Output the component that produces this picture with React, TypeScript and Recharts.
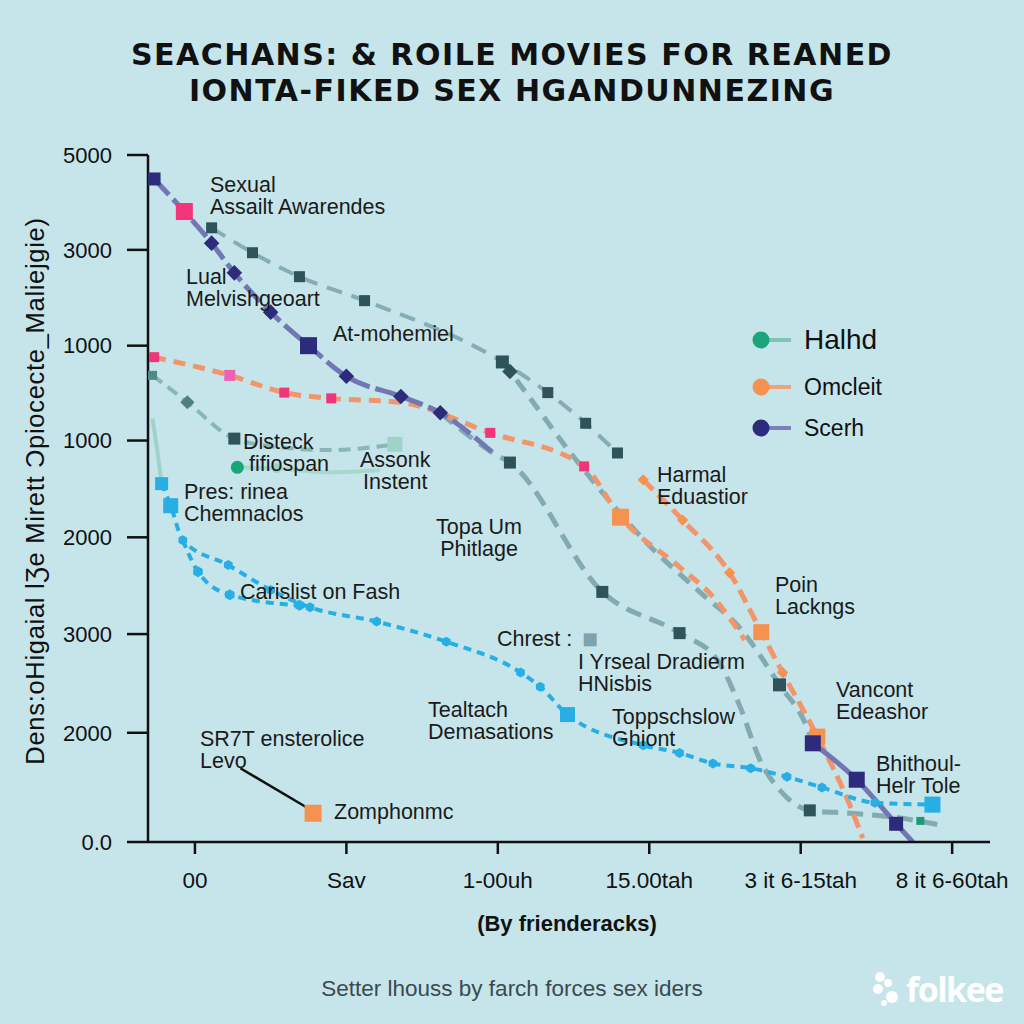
import React from "react";
import { ComposedChart, Line, XAxis, YAxis } from "recharts";

// axis ticks (positions on the chart's own scales + the printed labels)
const X_TICKS = [0, 1, 2, 3, 4, 5];
const X_LABELS = ["00", "Sav", "1-00uh", "15.00tah", "3 it 6-15tah", "8 it 6-60tah"];
const Y_TICKS = [0, 1.14, 2.17, 3.18, 4.19, 5.18, 6.18, 7.17];
const Y_LABELS = ["0.0", "2000", "3000", "2000", "1000", "1000", "3000", "5000"];

// series values, [x, y]
const scerhTop = [[-0.27, 6.92], [-0.07, 6.58], [0.11, 6.25], [0.26, 5.94], [0.5, 5.53], [0.75, 5.18], [1.0, 4.86], [1.36, 4.65], [1.62, 4.48], [1.97, 4.06]];
const scerhLow = [[4.08, 1.03], [4.37, 0.65], [4.63, 0.19], [4.74, 0.0]];
const omcleit = [[-0.27, 5.06], [0.23, 4.87], [0.59, 4.69], [0.9, 4.63], [1.35, 4.59], [1.95, 4.27], [2.57, 3.92], [2.81, 3.39], [3.2, 2.87], [3.42, 2.56], [3.63, 2.11]];
const omcleitB = [[2.96, 3.78], [3.22, 3.36], [3.53, 2.81], [3.74, 2.19], [3.88, 1.77], [4.11, 1.1], [4.31, 0.44], [4.41, 0.04]];
const greyTop = [[0.11, 6.41], [0.38, 6.15], [0.69, 5.9], [1.12, 5.65], [2.03, 5.01], [2.33, 4.69], [2.58, 4.37], [2.79, 4.06]];
const greyMid = [[2.03, 5.01], [2.08, 4.91], [2.54, 3.94], [3.01, 3.08], [3.34, 2.6], [3.6, 2.23], [3.86, 1.64], [4.04, 1.2], [4.08, 1.03]];
const greyLong = [[1.62, 4.48], [1.97, 4.06], [2.08, 3.96], [2.69, 2.61], [3.2, 2.18], [3.45, 1.9], [3.6, 1.41], [3.73, 0.86], [3.88, 0.51], [4.06, 0.33], [4.33, 0.3], [4.66, 0.25], [4.94, 0.17]];
const halhdA = [[-0.28, 4.87], [-0.05, 4.59], [0.26, 4.21], [0.56, 4.12], [0.89, 4.09], [1.32, 4.15]];
const halhdB = [[0.28, 3.91], [0.54, 3.9], [0.89, 3.86], [1.22, 3.88]];
const halhdLink = [[-0.28, 4.42], [-0.25, 4.1], [-0.22, 3.74]];
const blueA = [[-0.22, 3.74], [-0.16, 3.51], [-0.08, 3.15], [0.22, 2.89], [0.5, 2.63], [0.76, 2.45], [1.2, 2.3], [1.66, 2.09], [2.15, 1.77], [2.28, 1.62], [2.46, 1.33], [2.96, 1.01], [3.2, 0.93], [3.42, 0.82], [3.67, 0.77], [3.91, 0.68], [4.14, 0.57], [4.49, 0.41], [4.87, 0.39]];
const blueB = [[-0.08, 3.15], [0.02, 2.82], [0.23, 2.58], [0.69, 2.47]];
const leader = [[0.3, 0.77], [0.75, 0.35]];
const zomphonmc = [[0.78, 0.3]];
const chrest = [[2.61, 2.11]];
const greenEnd = [[4.79, 0.22]];

const pts = (a: number[][]) => a.map(([x, y]) => ({ x, y }));

const NAVY = "#2d2b7c";
const PINK = "#f0357a";
const ORANGE = "#f5924f";
const DARK = "#2f535b";
const BLUE = "#27aee4";
const LIGHT = "#9fd3c8";

type Spec = [string, number, string] | null;

function Mark(props: any) {
  const { cx, cy, spec } = props;
  if (cx == null || cy == null || !spec) return <g />;
  const [kind, s, fill] = spec as [string, number, string];
  if (kind === "square") return <rect x={cx - s / 2} y={cy - s / 2} width={s} height={s} fill={fill} />;
  if (kind === "diamond")
    return <rect x={cx - s / 2} y={cy - s / 2} width={s} height={s} fill={fill} transform={`rotate(45 ${cx} ${cy})`} />;
  if (kind === "hex") {
    const r = s / 2;
    const p = [0, 1, 2, 3, 4, 5].map((k) => {
      const a = (Math.PI / 3) * k + Math.PI / 6;
      return `${cx + r * Math.cos(a)},${cy + r * Math.sin(a)}`;
    });
    return <polygon points={p.join(" ")} fill={fill} />;
  }
  return <circle cx={cx} cy={cy} r={s / 2} fill={fill} />;
}

interface S {
  id: string;
  data: number[][];
  stroke: string;
  width: number;
  dash?: string;
  opacity?: number;
  mark: (i: number) => Spec;
}

const SERIES: S[] = [
  { id: "greyTop", data: greyTop, stroke: "#6f9ba2", width: 4, dash: "16 10", opacity: 0.75,
    mark: (i) => ["square", i === 4 ? 13 : 11, DARK] },
  { id: "greyLong", data: greyLong, stroke: "#6f9ba2", width: 5, dash: "16 9", opacity: 0.8,
    mark: (i) => ([2, 3, 4, 9].includes(i) ? ["square", 12, DARK] : null) },
  { id: "greyMid", data: greyMid, stroke: "#6f9ba2", width: 5, dash: "14 9", opacity: 0.8,
    mark: (i) => (i === 6 ? ["square", 13, DARK] : i === 1 ? ["diamond", 11, DARK] : null) },
  { id: "halhdLink", data: halhdLink, stroke: "#9fd3c8", width: 4, mark: () => null },
  { id: "halhdA", data: halhdA, stroke: "#7fb3af", width: 4, dash: "12 7", opacity: 0.9,
    mark: (i) => (i === 0 ? ["square", 9, "#4f8a88"] : i === 1 ? ["diamond", 10, "#4f7f80"] : i === 2 ? ["square", 12, DARK] : i === 5 ? ["square", 15, LIGHT] : null) },
  { id: "halhdB", data: halhdB, stroke: "#a6d8cd", width: 4, mark: (i) => (i === 0 ? ["circle", 13, "#1aa67a"] : i === 1 ? ["circle", 10, LIGHT] : null) },
  { id: "omcleit", data: omcleit, stroke: "#f2956a", width: 5, dash: "12 8",
    mark: (i) => (i === 7 ? ["square", 17, ORANGE] : [0, 1, 2, 3, 5, 6].includes(i) ? ["square", i === 1 ? 11 : 10, i === 1 ? "#f060b0" : PINK] : null) },
  { id: "omcleitB", data: omcleitB, stroke: "#f2956a", width: 5, dash: "14 7",
    mark: (i) => (i === 3 || i === 5 ? ["square", 16, ORANGE] : i < 3 || i === 4 ? ["diamond", 8, ORANGE] : null) },
  { id: "scerhTop", data: scerhTop, stroke: "#7276b5", width: 5, dash: "22 6",
    mark: (i) => (i === 1 ? ["square", 17, PINK] : i === 0 || i === 5 ? ["square", i === 0 ? 13 : 17, NAVY] : i === 9 ? null : ["diamond", 11, NAVY]) },
  { id: "scerhLow", data: scerhLow, stroke: "#7276b5", width: 5,
    mark: (i) => (i < 2 ? ["square", 16, NAVY] : i === 2 ? ["square", 14, NAVY] : null) },
  { id: "blueA", data: blueA, stroke: BLUE, width: 4, dash: "8 6",
    mark: (i) => (i === 0 ? ["square", 13, BLUE] : i === 1 || i === 10 ? ["square", 15, BLUE] : i === 18 ? ["square", 16, BLUE] : ["hex", 10, BLUE]) },
  { id: "blueB", data: blueB, stroke: BLUE, width: 4, dash: "8 6", mark: (i) => (i === 0 ? null : ["hex", 11, BLUE]) },
  { id: "leader", data: leader, stroke: "#111", width: 2.5, mark: () => null },
  { id: "zomphonmc", data: zomphonmc, stroke: "none", width: 0, mark: () => ["square", 17, ORANGE] },
  { id: "chrest", data: chrest, stroke: "none", width: 0, mark: () => ["square", 13, "#7fa3ae"] },
  { id: "greenEnd", data: greenEnd, stroke: "none", width: 0, mark: () => ["square", 8, "#1f9a78"] },
];

const NOTES: { lines: string[]; left: number; top: number; align?: "center" | "left" }[] = [
  { lines: ["Sexual", "Assailt Awarendes"], left: 210, top: 174 },
  { lines: ["Lual", "Melvishgeoart"], left: 186, top: 266 },
  { lines: ["At-mohemiel"], left: 333, top: 323 },
  { lines: ["Disteck", " fifiospan"], left: 243, top: 431 },
  { lines: ["Assonk", "Instent"], left: 360, top: 449, align: "center" },
  { lines: ["Pres: rinea", "Chemnaclos"], left: 184, top: 481 },
  { lines: ["Topa Um", "Phitlage"], left: 436, top: 516, align: "center" },
  { lines: ["Carislist on Fash"], left: 240, top: 581 },
  { lines: ["Chrest :"], left: 497, top: 628 },
  { lines: ["I Yrseal Dradierm", "HNisbis"], left: 578, top: 651 },
  { lines: ["Tealtach", "Demasations"], left: 428, top: 699 },
  { lines: ["Toppschslow", "Ghiont"], left: 612, top: 706 },
  { lines: ["Harmal", "Eduastior"], left: 657, top: 464 },
  { lines: ["Poin", "Lackngs"], left: 775, top: 574 },
  { lines: ["Vancont", "Edeashor"], left: 836, top: 679 },
  { lines: ["Bhithoul-", "Helr Tole"], left: 876, top: 753 },
  { lines: ["SR7T ensterolice", "Levo"], left: 200, top: 728 },
  { lines: ["Zomphonmc"], left: 334, top: 801 },
];

const LEGEND = [
  { name: "Halhd", dot: "#1aa67a", line: "#7fc4b5", top: 340, size: 28 },
  { name: "Omcleit", dot: ORANGE, line: "#f0a27a", top: 387, size: 23 },
  { name: "Scerh", dot: NAVY, line: "#7b80b8", top: 428, size: 23 },
];

const FONT = "'Liberation Sans', Arial, sans-serif";
const BG = "#c5e5ea";

export default function App() {
  return (
    <div style={{ position: "absolute", left: 0, top: 0, width: 1024, height: 1024, background: BG, fontFamily: FONT, overflow: "hidden" }}>
      <div style={{ position: "absolute", top: 37, left: 0, width: 1024, textAlign: "center", fontFamily: "'DejaVu Sans', sans-serif", fontWeight: 700, fontSize: 30, letterSpacing: 1.5, lineHeight: "36px", color: "#111" }}>
        SEACHANS: &amp; ROILE MOVIES FOR REANED
        <br />
        IONTA-FIKED SEX HGANDUNNEZING
      </div>

      <ComposedChart width={1024} height={1024} margin={{ top: 155, right: 34, bottom: 122, left: 0 }} style={{ position: "absolute", left: 0, top: 0 }}>
        <XAxis
          type="number"
          dataKey="x"
          domain={[-0.31, 5.25]}
          ticks={X_TICKS}
          tickFormatter={(_v: number, i: number) => X_LABELS[i]}
          allowDataOverflow
          height={60}
          tickSize={12}
          tickMargin={18}
          axisLine={{ stroke: "#111", strokeWidth: 2.5 }}
          tickLine={{ stroke: "#111", strokeWidth: 2.5 }}
          tick={{ fill: "#111", fontSize: 22.5, fontFamily: FONT }}
        />
        <YAxis
          type="number"
          dataKey="y"
          domain={[0, 7.17]}
          ticks={Y_TICKS}
          tickFormatter={(_v: number, i: number) => Y_LABELS[i]}
          allowDataOverflow
          width={148}
          tickSize={21}
          tickMargin={15}
          axisLine={{ stroke: "#111", strokeWidth: 2.5 }}
          tickLine={{ stroke: "#111", strokeWidth: 2.5 }}
          tick={{ fill: "#111", fontSize: 22, fontFamily: FONT }}
        />
        {SERIES.map((s) => (
          <Line
            key={s.id}
            data={pts(s.data)}
            dataKey="y"
            type="monotone"
            stroke={s.stroke}
            strokeWidth={s.width}
            strokeDasharray={s.dash}
            strokeOpacity={s.opacity ?? 1}
            isAnimationActive={false}
            activeDot={false}
            dot={(p: any) => <Mark key={`${s.id}-${p.index}`} cx={p.cx} cy={p.cy} spec={s.mark(p.index)} />}
          />
        ))}
      </ComposedChart>

      {NOTES.map((n, k) => (
        <div key={k} style={{ position: "absolute", left: n.left, top: n.top, fontSize: 21.5, lineHeight: "22px", color: "#1a1a1a", textAlign: n.align ?? "left", whiteSpace: "pre" }}>
          {n.lines.map((l, j) => (
            <div key={j}>{l}</div>
          ))}
        </div>
      ))}

      {LEGEND.map((l) => (
        <div key={l.name} style={{ position: "absolute", left: 751, top: l.top - 20, height: 40, display: "flex", alignItems: "center" }}>
          <svg width={44} height={40}>
            <line x1={10} y1={20} x2={40} y2={20} stroke={l.line} strokeWidth={4} />
            <circle cx={10} cy={20} r={8.5} fill={l.dot} />
          </svg>
          <span style={{ marginLeft: 9, fontSize: l.size, color: "#111" }}>{l.name}</span>
        </div>
      ))}

      <div style={{ position: "absolute", left: 35, top: 491, transform: "translate(-50%, -50%) rotate(-90deg)", whiteSpace: "nowrap", fontSize: 25.5, letterSpacing: 0.7, color: "#111" }}>
        Dens:oHigaial lƷe  Mirett Ɔpiocecte_Maliejgie)
      </div>

      <div style={{ position: "absolute", left: 0, width: 1134, top: 911, textAlign: "center", fontSize: 22, fontWeight: 700, color: "#111" }}>
        (By frienderacks)
      </div>
      <div style={{ position: "absolute", left: 0, width: 1024, top: 976, textAlign: "center", fontSize: 22.5, color: "#3b4a50" }}>
        Setter lhouss by farch forces sex iders
      </div>
      <div style={{ position: "absolute", left: 866, top: 966, display: "flex", alignItems: "center", color: "#fff" }}>
        <svg width={40} height={44}>
          <circle cx={14} cy={10} r={5} fill="#fff" />
          <circle cx={22} cy={16} r={4} fill="#fff" />
          <circle cx={12} cy={22} r={5} fill="#fff" />
          <circle cx={26} cy={30} r={6} fill="#fff" />
          <circle cx={18} cy={36} r={3} fill="#fff" />
        </svg>
        <span style={{ fontSize: 34, fontWeight: 700, letterSpacing: -1.5, fontFamily: "'Open Sans', sans-serif" }}>folkee</span>
      </div>
    </div>
  );
}
